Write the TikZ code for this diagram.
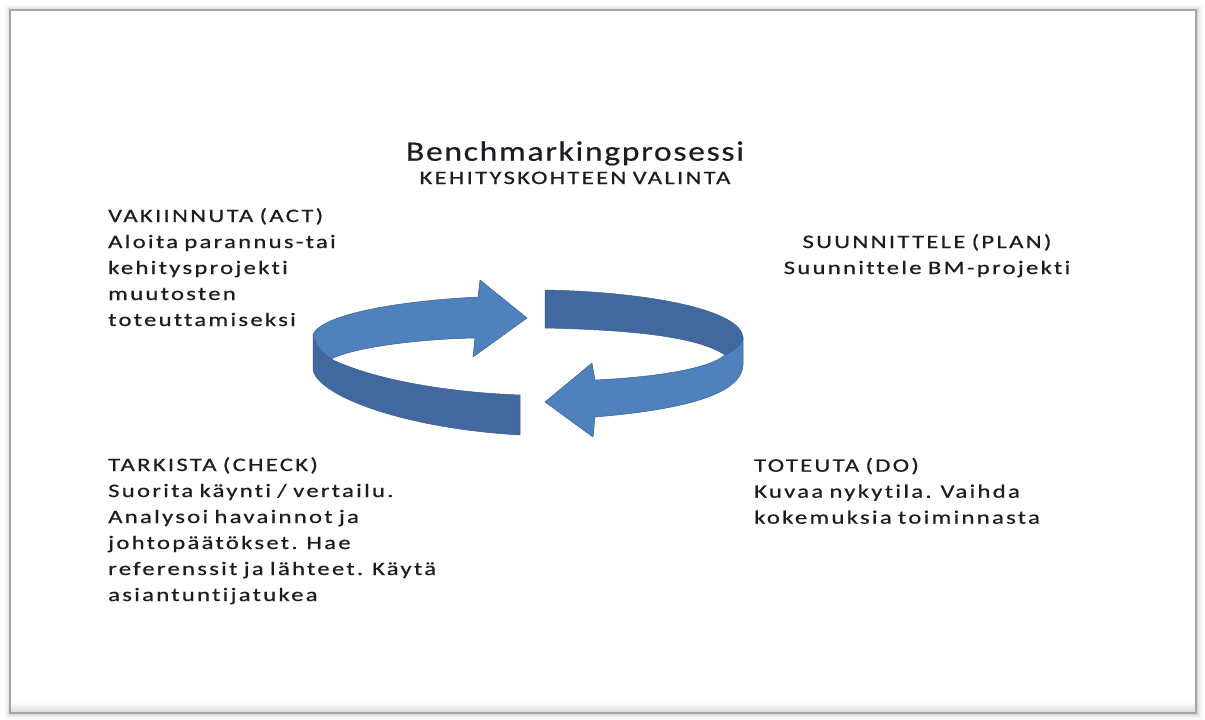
\documentclass[tikz,border=0pt]{standalone}
\usepackage{fontspec}
\setmainfont{Carlito}
\newfontfamily\bodyfont{Carlito}[FakeStretch=1.3, LetterSpace=12, FakeBold=0.5, WordSpace=0.8, Ligatures=NoCommon]
\newfontfamily\headfont{Carlito}[FakeStretch=1.2, LetterSpace=6, FakeBold=0.4, Ligatures=NoCommon]
\definecolor{ringlight}{RGB}{79,129,189}
\definecolor{ringdark}{RGB}{66,105,158}
\definecolor{ringedge}{RGB}{58,94,142}
\definecolor{inkcol}{RGB}{28,28,34}
\tikzset{
  txt/.style={inner sep=0pt, align=left, anchor=base west, text=inkcol,
    font=\bodyfont\fontsize{19}{26}\selectfont},
  ctxt/.style={txt, align=center, anchor=base},
  lightface/.style={fill=ringlight, draw=ringedge, line width=0.5pt, line join=round},
  darkface/.style={fill=ringdark, draw=ringedge, line width=0.5pt, line join=round}
}
\begin{document}
\begin{tikzpicture}[x=1pt,y=-1pt]
\useasboundingbox (0,0) rectangle (1205,720);
\fill[white] (0,0) rectangle (1205,720);

% soft shadow round the frame
\foreach \d/\o in {1/0.16,2/0.11,3/0.07,4/0.045,5/0.025,6/0.015}
  \draw[black,opacity=\o,line width=1pt] (10-\d,10-\d) rectangle (1196+\d,713+\d);
\shade[top color=white,bottom color=black!14] (11,702) rectangle (1195,712);
\draw[black!35,line width=1.2pt] (10,10) rectangle (1196,713);

% left arrow: back face with head, then front face
\path[lightface] (313,335) .. controls (318,318) and (380,302) .. (478,297)
  -- (480,280) -- (527,318) -- (473,357) -- (475,338)
  .. controls (420,339) and (355,347) .. (331,359)
  .. controls (322,353) and (315,345) .. (313,335) -- cycle;
\path[darkface] (313,335) -- (313,370)
  .. controls (318,395) and (400,428) .. (520,435) -- (520,395)
  .. controls (440,392) and (370,378) .. (331,359)
  .. controls (322,353) and (315,345) .. (313,335) -- cycle;

% right arrow: back face, then front face with head
\path[darkface] (545,290) .. controls (650,292) and (740,310) .. (743,337)
  .. controls (742,345) and (735,350) .. (725,355)
  .. controls (700,338) and (640,330) .. (545,328) -- cycle;
\path[lightface] (743,337) -- (743,365)
  .. controls (742,395) and (680,410) .. (595,417)
  -- (593,437) -- (545,402) -- (592,363) -- (595,380)
  .. controls (660,377) and (710,368) .. (725,355)
  .. controls (735,350) and (742,345) .. (743,337) -- cycle;

% headings
\node[ctxt, font=\headfont\fontsize{28}{32}\selectfont] (title) at (575,160.7) {Benchmarkingprosessi};
\node[ctxt] (subtitle) at (575,184) {KEHITYSKOHTEEN VALINTA};

% the four phases (each node sits on the baseline of its last line)
\node[txt] (act) at (108,326) {VAKIINNUTA (ACT)\\Aloita parannus-tai\\kehitysprojekti\\muutosten\\toteuttamiseksi};
\node[ctxt] (plan) at (927,274) {SUUNNITTELE (PLAN)\\Suunnittele BM-projekti};
\node[txt] (check) at (108,601) {TARKISTA (CHECK)\\Suorita käynti / vertailu.\\Analysoi havainnot ja\\johtopäätökset. Hae\\referenssit ja lähteet. Käytä\\asiantuntijatukea};
\node[txt] (do) at (754,523.7) {TOTEUTA (DO)\\Kuvaa nykytila. Vaihda\\kokemuksia toiminnasta};
\end{tikzpicture}
\end{document}
